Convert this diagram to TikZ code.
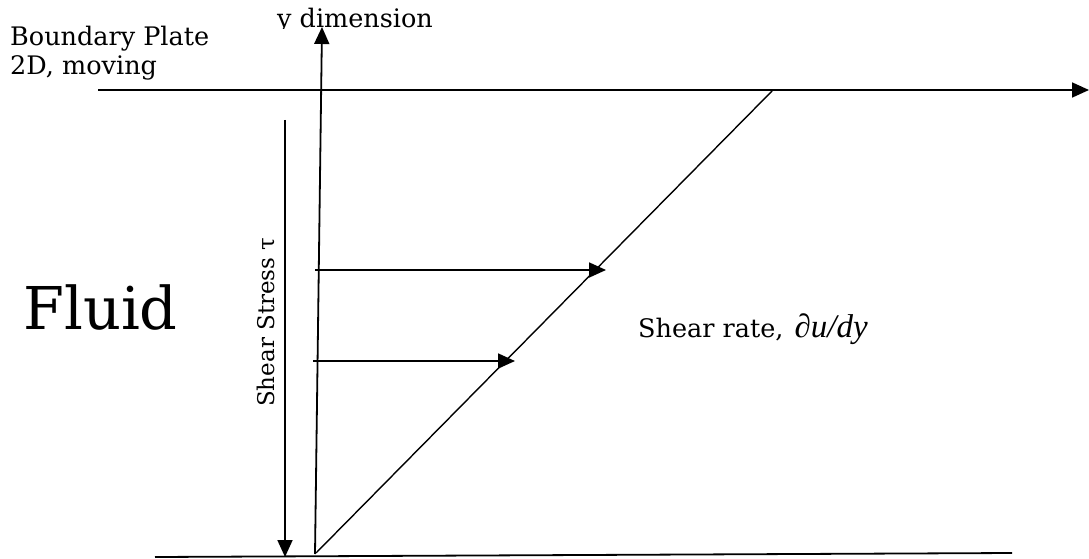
\documentclass[tikz,border=0pt]{standalone}
\usepackage{fontspec}
\setmainfont{DejaVu Serif}
\newfontfamily\mathserif{Liberation Serif}
\usetikzlibrary{arrows.meta}
\begin{document}
\begin{tikzpicture}[x=1pt,y=1pt,
  line/.style={line width=1.8pt},
  thinline/.style={line width=1.4pt},
  arr/.style={line width=1.8pt,-{Triangle[length=17pt,width=15pt]}},
  lbl/.style={inner sep=0pt, anchor=base west, font=\fontsize{25.5}{30}\selectfont}]
\useasboundingbox (0,0) rectangle (1089,-559);
% coordinates
\coordinate (plateL) at (98,-90);
\coordinate (plateR) at (1089,-90);
\coordinate (yaxB) at (315,-554);
\coordinate (yaxT) at (322,-27);
\coordinate (botL) at (155,-557);
\coordinate (botR) at (1012,-553);
\coordinate (ssT) at (285,-120);
\coordinate (ssB) at (285,-557);
\coordinate (dB) at (316,-553);
\coordinate (dT) at (772,-91);
\coordinate (a1s) at (315,-270);
\coordinate (a1e) at (606,-270);
\coordinate (a2s) at (313,-361);
\coordinate (a2e) at (515,-361);
% lines
\draw[arr] (plateL) -- (plateR);
\draw[line] (botL) -- (botR);
\draw[arr] (ssT) -- (ssB);
\draw[thinline] (dB) -- (dT);
\draw[arr] (a1s) -- (a1e);
\draw[arr] (a2s) -- (a2e);
% labels
\begin{scope}
  \clip (270,0) rectangle (445,-28.5);
  \node[lbl] (ydim) at (277,-28) {y dimension};
\end{scope}
\draw[arr] (yaxB) -- (yaxT);
\node[lbl] (bp1) at (10,-46) {Boundary Plate};
\node[lbl] (bp2) at (10,-75) {2D, moving};
\node[lbl, font=\fontsize{59}{64}\selectfont] (fluid) at (23,-329) {Fluid};
\node[lbl, rotate=90, font=\fontsize{23}{26}\selectfont] (ss) at (274,-407) {Shear Stress τ};
\node[lbl] (sr) at (638,-337) {Shear rate, \hspace{3pt}{\mathserif\itshape\fontsize{33}{36}\selectfont ∂u/dy}};
\end{tikzpicture}
\end{document}
